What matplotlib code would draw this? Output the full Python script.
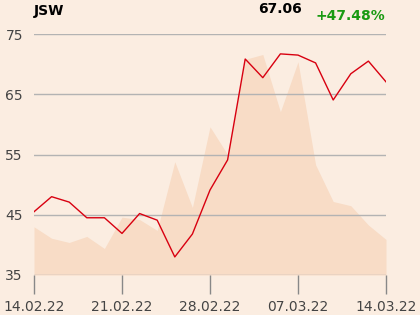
import numpy as np
import matplotlib
matplotlib.use("Agg")
import matplotlib.pyplot as plt

# price (red line) and the shaded background series, one value per trading day
price = [45.5, 48.0, 47.1, 44.5, 44.5, 41.9, 45.2, 44.1, 38.0, 41.8,
         49.1, 54.1, 70.85, 67.75, 71.7, 71.5, 70.2, 64.05, 68.4, 70.5, 67.06]
shade = [43.0, 41.1, 40.4, 41.4, 39.4, 44.6, 44.2, 42.4, 53.8, 46.2,
         59.6, 55.0, 70.8, 71.6, 62.1, 70.4, 53.3, 47.2, 46.5, 43.3, 40.9]
tick_pos = [0, 5, 10, 15, 20]
tick_labels = ["14.02.22", "21.02.22", "28.02.22", "07.03.22", "14.03.22"]
y_ticks = [35, 45, 55, 65, 75]

bg = "#fbede1"
fig = plt.figure(figsize=(4.2, 3.15), dpi=100, facecolor=bg)
ax = fig.add_axes([34/420, 40/315, 352/420, 241/315], facecolor=bg)

x = np.arange(len(price))
ax.fill_between(x, 35, shade, color="#f8dcc6", lw=0, zorder=1)
ax.plot(x, price, color="#d80010", lw=1.0, zorder=3)

ax.set_xlim(0, 20)
ax.set_ylim(35, 75)
ax.set_yticks(y_ticks)
ax.set_xticks(tick_pos)
ax.set_xticklabels(tick_labels)
for yv in y_ticks:
    ax.axhline(yv, color="#b3b3b3", lw=1.0, zorder=2)

for s in ax.spines.values():
    s.set_visible(False)
ax.tick_params(axis="y", length=0, pad=8, labelsize=10, labelcolor="#444444")
ax.tick_params(axis="x", length=14, width=1, color="#888888", pad=4,
               labelsize=10, labelcolor="#444444")

fig.text(34/420, 1 - 11/315, "JSW", fontsize=10, fontweight="bold", va="center", ha="left")
fig.text(302/420, 1 - 9/315, "67.06", fontsize=10, fontweight="bold", va="center", ha="right")
fig.text(385/420, 1 - 16/315, "+47.48%", fontsize=10, fontweight="bold",
         color="#1a9a12", va="center", ha="right")

fig.savefig("out.png", dpi=100, facecolor=bg)
